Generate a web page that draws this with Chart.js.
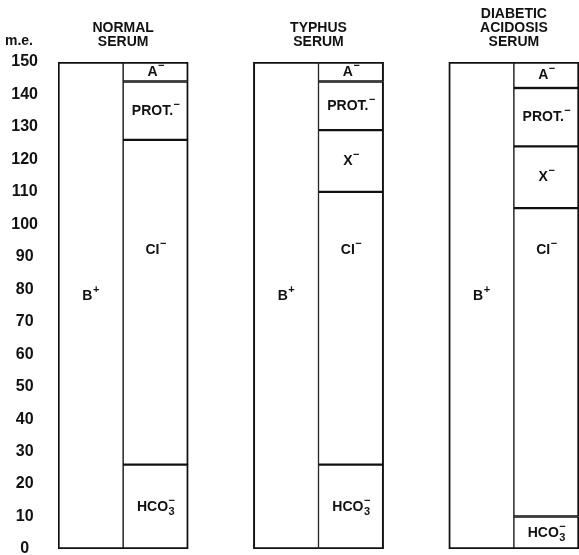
<!DOCTYPE html>
<html>
<head>
<meta charset="utf-8">
<script src="https://cdn.jsdelivr.net/npm/chart.js@4"></script>
<style>
  html, body { margin: 0; padding: 0; background: #fff; }
  #wrap { width: 579px; height: 555px; position: relative; }
</style>
</head>
<body>
<div id="wrap"><canvas id="chart"></canvas></div>
<script>
// Panel titles
const panels = [["NORMAL", "SERUM"], ["TYPHUS", "SERUM"], ["DIABETIC", "ACIDOSIS", "SERUM"]];

// m.e. per panel (bottom to top of the anion column)
const cations  = [150, 150, 150];   // B+
const hco3     = [26, 26, 10];
const chloride = [100, 84, 95];
const xAnion   = [0, 19, 19];
const protein  = [18, 15, 18];
const aAnion   = [6, 6, 8];

const yTicks = [0, 10, 20, 30, 40, 50, 60, 70, 80, 90, 100, 110, 120, 130, 140, 150];

// 8 slots: cation, anion, gap, cation, anion, gap, cation, anion
const slots = [];
panels.forEach((p, i) => {
    slots.push(p.join(" ") + " B+");
    slots.push(p.join(" ") + " anions");
    if (i < panels.length - 1) slots.push("");
});

function cationCol(arr) {
    let out = [];
    arr.forEach((v, i) => {
        out.push(v || null, null);
        if (i < arr.length - 1) out.push(null);
    });
    return out;
}
function anionCol(arr) {
    let out = [];
    arr.forEach((v, i) => {
        out.push(null, v || null);
        if (i < arr.length - 1) out.push(null);
    });
    return out;
}

const barStyle = {
    backgroundColor: "#fff",
    borderColor: "#111",
    borderSkipped: false,
    categoryPercentage: 1,
    barPercentage: 1,
    stack: "s"
};

// label parts: base text, optional subscript and superscript
const datasets = [
    { label: "B+", data: cationCol(cations), seg: { base: "B", sup: "+" }, labelAt: 78,
      borderWidth: { top: 2, bottom: 2, left: 2, right: 1 } },
    { label: "HCO3-", data: anionCol(hco3), seg: { base: "HCO", sub: "3", sup: "−" },
      borderWidth: { top: 1.5, bottom: 2, left: 1, right: 2 } },
    { label: "Cl-", data: anionCol(chloride), seg: { base: "CI", sup: "−" }, labelAt: 92,
      borderWidth: { top: 1.5, bottom: 1.5, left: 1, right: 2 } },
    { label: "X-", data: anionCol(xAnion), seg: { base: "X", sup: "−" },
      borderWidth: { top: 1.5, bottom: 1.5, left: 1, right: 2 } },
    { label: "PROT.-", data: anionCol(protein), seg: { base: "PROT.", sup: "−" },
      borderWidth: { top: 1.5, bottom: 1.5, left: 1, right: 2 } },
    { label: "A-", data: anionCol(aAnion), seg: { base: "A", sup: "−" },
      borderWidth: { top: 2, bottom: 1.5, left: 1, right: 2 } }
].map(d => Object.assign({}, barStyle, d));

const FONT = "'Liberation Sans', Arial, sans-serif";

function drawRich(ctx, seg, x, y) {
    ctx.font = "bold 14px " + FONT;
    let bw = ctx.measureText(seg.base).width;
    ctx.font = "bold 11px " + FONT;
    let ew = Math.max(seg.sub ? ctx.measureText(seg.sub).width : 0,
                      seg.sup ? ctx.measureText(seg.sup).width : 0);
    let x0 = x - (bw + ew) / 2;
    ctx.textAlign = "left";
    ctx.textBaseline = "middle";
    ctx.font = "bold 14px " + FONT;
    ctx.fillText(seg.base, x0, y);
    ctx.font = "bold 11px " + FONT;
    if (seg.sup) ctx.fillText(seg.sup, x0 + bw + 0.5, y - 6);
    if (seg.sub) ctx.fillText(seg.sub, x0 + bw + 0.5, y + 5);
}

const labelPlugin = {
    id: "segLabels",
    afterDatasetsDraw(chart) {
        const ctx = chart.ctx;
        const ys = chart.scales.y;
        ctx.save();
        ctx.fillStyle = "#111";
        chart.data.datasets.forEach((ds, i) => {
            chart.getDatasetMeta(i).data.forEach((bar, j) => {
                if (ds.data[j] == null) return;
                const p = bar.getProps(["x", "y", "base"], true);
                let y = (p.y + p.base) / 2;
                if (ds.labelAt != null) y = ys.getPixelForValue(ds.labelAt);
                drawRich(ctx, ds.seg, p.x, y);
            });
        });

        // panel titles
        const xs = chart.scales.x;
        ctx.font = "bold 14px " + FONT;
        ctx.textAlign = "center";
        ctx.textBaseline = "alphabetic";
        let col = 0;
        panels.forEach(lines => {
            const cx = (xs.getPixelForValue(col) + xs.getPixelForValue(col + 1)) / 2;
            lines.forEach((t, k) => {
                ctx.fillText(t, cx, 46 - (lines.length - 1 - k) * 14);
            });
            col += 3;
        });

        // unit
        ctx.font = "bold 14px " + FONT;
        ctx.textAlign = "left";
        ctx.fillText("m.e.", 5, 45);
        ctx.restore();
    }
};

new Chart(document.getElementById("chart"), {
    type: "bar",
    data: { labels: slots, datasets: datasets },
    options: {
        responsive: true,
        maintainAspectRatio: false,
        animation: false,
        layout: { padding: { top: 62, bottom: 6, right: 0 } },
        plugins: {
            legend: { display: false },
            tooltip: { enabled: false }
        },
        scales: {
            x: {
                stacked: true,
                display: false
            },
            y: {
                stacked: true,
                min: 0,
                max: 150,
                afterBuildTicks: s => { s.ticks = yTicks.map(v => ({ value: v })); },
                afterFit: s => { s.width = 58; s.paddingTop = 6; s.paddingBottom = 6; },
                grid: { display: false, drawTicks: false },
                border: { display: false },
                ticks: {
                    color: "#111",
                    font: { family: FONT, size: 16, weight: "bold" },
                    crossAlign: "center",
                    padding: 20
                }
            }
        }
    },
    plugins: [labelPlugin]
});
</script>
</body>
</html>
